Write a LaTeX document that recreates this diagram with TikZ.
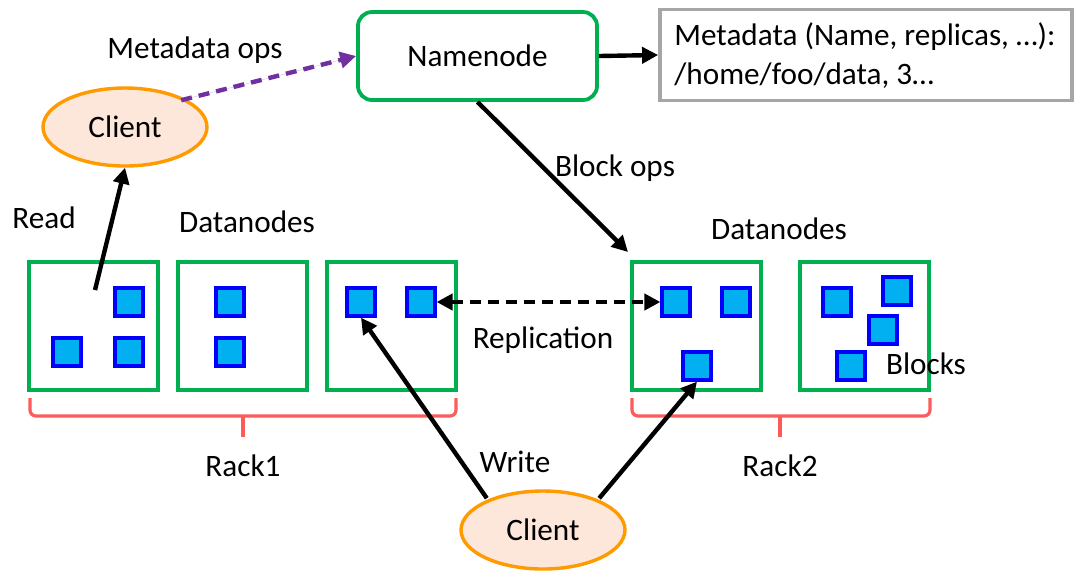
\documentclass[tikz,border=0pt]{standalone}
\usepackage{fontspec}
\setmainfont{Carlito}
\usetikzlibrary{arrows.meta,shapes.geometric}
\definecolor{nodegreen}{HTML}{00B050}
\definecolor{clientfill}{HTML}{FCE7DA}
\definecolor{clientline}{HTML}{FF9A00}
\definecolor{blockfill}{HTML}{00B0F0}
\definecolor{blockline}{HTML}{0000FF}
\definecolor{metapurple}{HTML}{7030A0}
\definecolor{rackred}{HTML}{FF5A5A}
\definecolor{boxgray}{HTML}{A6A6A6}
\tikzset{
  lbl/.style={font=\fontsize{15.6}{18}\selectfont, inner sep=0pt},
  datanode/.style={draw=nodegreen, line width=1.9pt, minimum width=64.5pt, minimum height=64pt, inner sep=0pt},
  blk/.style={draw=blockline, fill=blockfill, line width=1.6pt, minimum size=14pt, inner sep=0pt},
  client/.style={ellipse, draw=clientline, fill=clientfill, line width=1.7pt, minimum width=82pt, minimum height=39pt, font=\fontsize{15.6}{18}\selectfont},
  conn/.style={line width=2.2pt, -{Triangle[length=8pt,width=8pt]}},
  dashconn/.style={line width=2.2pt, dash pattern=on 5.5pt off 3.5pt},
  brace/.style={draw=rackred, line width=1.6pt, rounded corners=3pt},
}
\begin{document}
\begin{tikzpicture}[x=0.5pt,y=-0.5pt]
\useasboundingbox (0,0) rectangle (1076,570);

% Namenode and its metadata table
\node[draw=nodegreen, line width=1.9pt, rounded corners=7pt, minimum width=119.5pt, minimum height=44pt,
      font=\fontsize{15.6}{18}\selectfont] (nn) at (477.5,56) {Namenode};
\node[draw=boxgray, line width=1.9pt, minimum width=206pt, minimum height=45.5pt, inner sep=0pt] (meta) at (866,55) {};
\node[lbl, anchor=west] (meta1) at (674,37) {Metadata (Name, replicas, …):};
\node[lbl, anchor=west] (meta2) at (674,76) {/home/foo/data, 3…};
\draw[conn] (nn.east) -- (meta.west);

% Clients
\node[client] (ctop) at (125,127) {Client};
\node[client] (cbot) at (543,530) {Client};

% Datanodes, rack 1
\node[datanode] (d1) at (93.5,326) {};
\node[datanode] (d2) at (242.5,326) {};
\node[datanode] (d3) at (391.5,326) {};
% Datanodes, rack 2
\node[datanode] (d4) at (696.5,326) {};
\node[datanode] (d5) at (864.5,326) {};

% Blocks
\node[blk] (b11) at (129,302) {};
\node[blk] (b12) at (67,352) {};
\node[blk] (b13) at (129,352) {};
\node[blk] (b21) at (230,302) {};
\node[blk] (b22) at (230,352) {};
\node[blk] (b31) at (361,302) {};
\node[blk] (b32) at (421,302) {};
\node[blk] (b41) at (676,302) {};
\node[blk] (b42) at (736,302) {};
\node[blk] (b43) at (697,366) {};
\node[blk] (b51) at (837,302) {};
\node[blk] (b52) at (897,291) {};
\node[blk] (b53) at (883,330) {};
\node[blk] (b54) at (851,366) {};

% Labels
\node[lbl] (lmeta) at (195,50) {Metadata ops};
\node[lbl] (lread) at (44,218) {Read};
\node[lbl] (ldn1) at (247,222) {Datanodes};
\node[lbl] (ldn2) at (779,229) {Datanodes};
\node[lbl] (lbops) at (615,168) {Block ops};
\node[lbl] (lrepl) at (543,340) {Replication};
\node[lbl] (lblocks) at (926,364) {Blocks};
\node[lbl] (lwrite) at (515,462) {Write};
\node[lbl] (lrack1) at (243,466) {Rack1};
\node[lbl] (lrack2) at (780,466) {Rack2};

% Rack braces
\coordinate (r1l) at (30,398);
\coordinate (r1m) at (243,416);
\coordinate (r1r) at (456,398);
\draw[brace] (r1l) |- (r1m) -| (r1r);
\draw[draw=rackred, line width=1.6pt] (r1m) -- ++(0,21);
\coordinate (r2l) at (632,398);
\coordinate (r2m) at (780,416);
\coordinate (r2r) at (930,398);
\draw[brace] (r2l) |- (r2m) -| (r2r);
\draw[draw=rackred, line width=1.6pt] (r2m) -- ++(0,21);

% Connectors
\coordinate (readsrc) at (95,290);
\draw[conn] (readsrc) -- (ctop.south);
\draw[conn, dashconn, draw=metapurple, fill=metapurple] (ctop.north east) ++(-3,2) -- (nn.west);
\coordinate (bopsend) at (628,252);
\draw[conn] (nn.south) -- (bopsend);
\draw[dashconn, {Triangle[length=8pt,width=8pt]}-{Triangle[length=8pt,width=8pt]}] (b32.east) -- (b41.west);
\draw[conn] (cbot.north west) ++(3,-3) -- (b31.south);
\draw[conn] (cbot.north east) ++(-3,-3) -- (b43.south);
\end{tikzpicture}
\end{document}
